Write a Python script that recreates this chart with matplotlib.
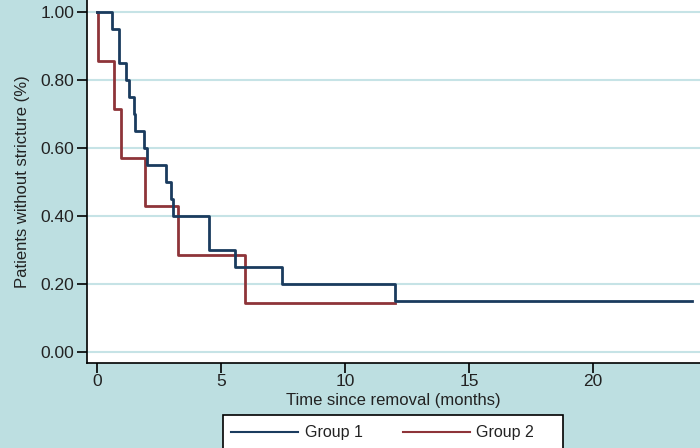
import matplotlib.pyplot as plt
from matplotlib.patches import Rectangle

plt.rcParams['font.family'] = ['Liberation Sans', 'DejaVu Sans']

# Kaplan-Meier step curves (months, survival fraction)
group1_time = [0, 0.6, 0.9, 1.15, 1.3, 1.5, 1.55, 1.9, 2.0, 2.8, 3.0, 3.05, 4.5, 5.55, 7.45, 12.0, 24.0]
group1_surv = [1.00, 0.95, 0.85, 0.80, 0.75, 0.70, 0.65, 0.60, 0.55, 0.50, 0.45, 0.40, 0.30, 0.25, 0.20, 0.15, 0.15]

group2_time = [0, 0.05, 0.7, 0.95, 1.95, 3.25, 5.95, 12.0]
group2_surv = [1.00, 0.857, 0.714, 0.571, 0.429, 0.286, 0.143, 0.143]

yticks = [0.0, 0.2, 0.4, 0.6, 0.8, 1.0]
ytick_labels = ['0.00', '0.20', '0.40', '0.60', '0.80', '1.00']
xticks = [0, 5, 10, 15, 20]

bg = '#bddfe1'
grid_col = '#c6e3e6'
navy = '#1a3b5e'
maroon = '#8e3439'
txt = '#222222'

fig = plt.figure(figsize=(7, 4.48), dpi=100, facecolor=bg)
ax = fig.add_axes([87 / 700, 85 / 448, 613 / 700, 363 / 448])
ax.set_facecolor('white')

ax.step(group1_time, group1_surv, where='post', color=navy, lw=2, label='Group 1', zorder=3)
ax.step(group2_time, group2_surv, where='post', color=maroon, lw=2, label='Group 2', zorder=2)

ax.set_xlim(-0.403, 24.31)
ax.set_ylim(-0.0324, 1.0353)

ax.set_yticks(yticks)
ax.set_yticklabels(ytick_labels)
ax.set_xticks(xticks)
ax.yaxis.grid(True, color=grid_col, lw=1.5)
ax.set_axisbelow(True)

for s in ['top', 'right']:
    ax.spines[s].set_visible(False)
for s in ['left', 'bottom']:
    ax.spines[s].set_color('black')
    ax.spines[s].set_linewidth(1.2)

ax.tick_params(axis='both', direction='out', length=7, width=1.2, colors='black',
               labelsize=12.5, labelcolor=txt)
ax.tick_params(axis='y', pad=2)
ax.tick_params(axis='x', pad=1)

ax.set_xlabel('Time since removal (months)', fontsize=12, color=txt, labelpad=3)
ax.set_ylabel('Patients without stricture (%)', fontsize=12, color=txt, labelpad=8)

# legend box (frame drawn separately so it can be wider than its entries)
fig.patches.append(Rectangle((223 / 700, -0.02), 340 / 700, 0.02 + 33 / 448,
                             transform=fig.transFigure, facecolor='white',
                             edgecolor='black', lw=1.2, zorder=1))
leg = fig.legend(loc='upper left', bbox_to_anchor=(221 / 700, 1 - 415 / 448), ncol=2,
                 fontsize=11.5, frameon=False,
                 handlelength=4.2, handletextpad=0.4, columnspacing=2.5,
                 borderpad=0.65, borderaxespad=0)
leg.set_zorder(2)
for line in leg.get_lines():
    line.set_linewidth(1.5)
for t in leg.get_texts():
    t.set_color(txt)

fig.savefig('out.png', dpi=100, facecolor=bg)
